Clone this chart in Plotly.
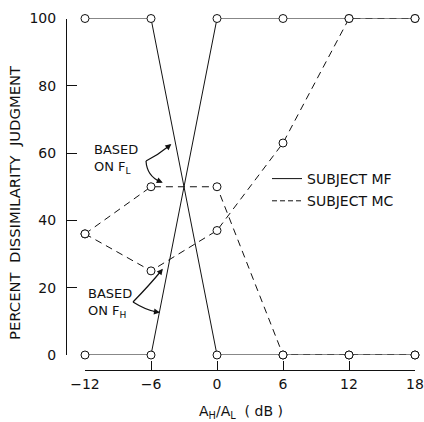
import plotly.graph_objects as go

# ---- data ----
x_db = [-12, -6, 0, 6, 12, 18]
mf_based_fl = [100, 100, 0, 0, 0, 0]
mf_based_fh = [0, 0, 100, 100, 100, 100]
mc_based_fl = [36, 50, 50, 0, 0, 0]
mc_based_fh = [36, 25, 37, 63, 100, 100]
x_ticks = [-12, -6, 0, 6, 12, 18]
y_ticks = [0, 20, 40, 60, 80, 100]

W, H = 424, 422
FONT = "DejaVu Sans"
INK = "#111111"

# pixel layout helpers (figure has zero margins, so paper == pixels)
X_L, X_R = 85, 415      # x domain in px (-12 .. 18)
Y_T, Y_B = 18.5, 355    # y domain in px (100 .. 0)
Y_AX_X = 66             # y-axis line position
X_AX_Y = 370            # x-axis line position


def px2data(px, py):
    xd = -12 + (px - X_L) / (X_R - X_L) * 30
    yd = (Y_B - py) / (Y_B - Y_T) * 100
    return xd, yd


fig = go.Figure()

marker = dict(symbol="circle", size=8, color="white", line=dict(color=INK, width=1))
dash = "7px,5px"

for ys in (mc_based_fl, mc_based_fh):
    fig.add_trace(go.Scatter(x=x_db, y=ys, mode="lines+markers", showlegend=False,
                             line=dict(color=INK, width=1, dash=dash), marker=marker,
                             cliponaxis=False, hoverinfo="skip"))
for ys in (mf_based_fl, mf_based_fh):
    fig.add_trace(go.Scatter(x=x_db, y=ys, mode="lines+markers", showlegend=False,
                             line=dict(color=INK, width=1), marker=marker,
                             cliponaxis=False, hoverinfo="skip"))

# legend-only entries
fig.add_trace(go.Scatter(x=[None], y=[None], mode="lines", name="SUBJECT MF",
                         legendgroup="mf", line=dict(color=INK, width=1)))
fig.add_trace(go.Scatter(x=[None], y=[None], mode="lines", name="SUBJECT MC",
                         legendgroup="mc", line=dict(color=INK, width=1, dash="5px,3px")))

# curved arrows (quadratic paths) + arrowheads
curves = [
    ((146, 161), (158, 155), (169, 146)),
    ((146, 161), (147, 176), (160, 181.5)),
    ((133, 302), (150.5, 284), (161, 271)),
    ((133, 302), (146.5, 310.5), (157, 312)),
]
for (s, c, e) in curves:
    sx, sy = px2data(*s)
    cx, cy = px2data(*c)
    ex, ey = px2data(*e)
    fig.add_shape(type="path", xref="x", yref="y",
                  path=f"M {sx},{sy} Q {cx},{cy} {ex},{ey}",
                  line=dict(color=INK, width=1.2))
    # arrowhead along end tangent
    tx, ty = e[0] - c[0], e[1] - c[1]
    n = (tx * tx + ty * ty) ** 0.5
    hx, hy = px2data(e[0] + tx / n * 3, e[1] + ty / n * 3)
    fig.add_annotation(x=hx, y=hy, xref="x", yref="y", text="", showarrow=True,
                       ax=-tx / n * 8, ay=-ty / n * 8, arrowhead=2, arrowsize=1,
                       arrowwidth=1.2, arrowcolor=INK)

# text labels
fig.add_annotation(x=92 / W, y=1 - 140 / H, xref="paper", yref="paper",
                   xanchor="left", yanchor="top", align="left", showarrow=False,
                   text="BASED<br>ON F<sub>L</sub>", font=dict(family=FONT, size=13, color=INK))
fig.add_annotation(x=86 / W, y=1 - 284 / H, xref="paper", yref="paper",
                   xanchor="left", yanchor="top", align="left", showarrow=False,
                   text="BASED<br>ON F<sub>H</sub>", font=dict(family=FONT, size=13, color=INK))

# axis titles
NB = "\u00a0"
fig.add_annotation(x=241 / W, y=1 - 412 / H, xref="paper", yref="paper",
                   xanchor="center", yanchor="middle", showarrow=False,
                   text=f"A<sub>H</sub>/A<sub>L</sub>{NB}{NB}({NB}dB{NB})",
                   font=dict(family=FONT, size=14, color=INK))
fig.add_annotation(x=14 / W, y=1 - 203 / H, xref="paper", yref="paper",
                   xanchor="center", yanchor="middle", showarrow=False, textangle=-90,
                   text=f"PERCENT{NB}{NB}DISSIMILARITY{NB}{NB}JUDGMENT",
                   font=dict(family=FONT, size=14.8, color=INK))

fig.update_layout(
    width=W, height=H, margin=dict(l=0, r=0, t=0, b=0, autoexpand=False),
    paper_bgcolor="white", plot_bgcolor="white",
    font=dict(family=FONT, size=14, color=INK),
    xaxis=dict(domain=[X_L / W, X_R / W], range=[-12, 18], anchor="free",
               position=1 - X_AX_Y / H, tickvals=x_ticks, ticks="inside", ticklen=9,
               tickcolor=INK, showline=True, linecolor=INK, linewidth=1,
               showgrid=False, zeroline=False, ticklabelstandoff=1, automargin=False,
               tickfont=dict(family=FONT, size=14, color=INK)),
    yaxis=dict(domain=[1 - Y_B / H, 1 - Y_T / H], range=[0, 100], anchor="free",
               position=Y_AX_X / W, tickvals=y_ticks, ticks="inside", ticklen=10,
               tickcolor=INK, showline=True, linecolor=INK, linewidth=1,
               showgrid=False, zeroline=False, ticklabelstandoff=7, automargin=False,
               tickfont=dict(family=FONT, size=14, color=INK)),
    showlegend=True,
    legend=dict(x=267 / W, y=1 - 163 / H, xanchor="left", yanchor="top",
                bgcolor="rgba(0,0,0,0)", borderwidth=0, tracegroupgap=1,
                itemwidth=30, font=dict(family=FONT, size=14, color=INK)),
)

fig.write_html("out.html", config={"displayModeBar": False},
               post_script="document.body.style.margin='0';document.body.style.padding='0';")
